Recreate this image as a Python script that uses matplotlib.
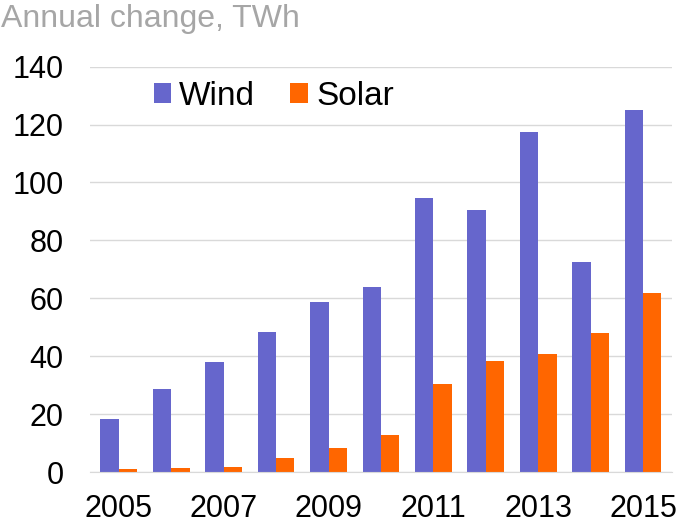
import numpy as np
import matplotlib
matplotlib.use('Agg')
import matplotlib.pyplot as plt

years = list(range(2005, 2016))
wind = [18.3, 28.7, 38, 48.3, 58.7, 64, 94.7, 90.5, 117.5, 72.5, 125]
solar = [1, 1.4, 1.7, 4.8, 8.3, 12.8, 30.4, 38.4, 40.8, 48, 62]
tick_years = [2005, 2007, 2009, 2011, 2013, 2015]

plt.rcParams['font.family'] = ['Liberation Sans', 'DejaVu Sans']

fig = plt.figure(figsize=(6.92, 5.23), dpi=100)
ax = fig.add_axes([0.13, 0.0975, 0.841, 0.775])

x = np.arange(len(years))
w = 0.35
ax.bar(x - w / 2, wind, w, color='#6666CC', label='Wind', zorder=2)
ax.bar(x + w / 2, solar, w, color='#FF6600', label='Solar', zorder=2)

ax.set_xlim(-0.55, 10.55)
ax.set_ylim(0, 140)
ax.set_yticks(range(0, 141, 20))
ax.set_xticks([years.index(y) for y in tick_years])
ax.set_xticklabels([str(y) for y in tick_years])
ax.tick_params(axis='both', length=0, labelsize=22, colors='black')
ax.tick_params(axis='x', pad=16)
ax.tick_params(axis='y', pad=19)
ax.grid(axis='y', color='#D9D9D9', linewidth=1, zorder=0)
for s in ['top', 'right', 'left']:
    ax.spines[s].set_visible(False)
ax.spines['bottom'].set_color('#D9D9D9')

fig.legend(loc='center left', bbox_to_anchor=(0.222, 0.816), ncol=2, frameon=False,
           fontsize=24, handlelength=0.52, handleheight=0.52, handletextpad=0.25,
           columnspacing=1.05, borderpad=0, borderaxespad=0)

fig.text(0.002, 0.993, 'Annual change, TWh', color='#A6A6A6', fontsize=23,
         ha='left', va='top')

fig.savefig('out.png', dpi=100)
